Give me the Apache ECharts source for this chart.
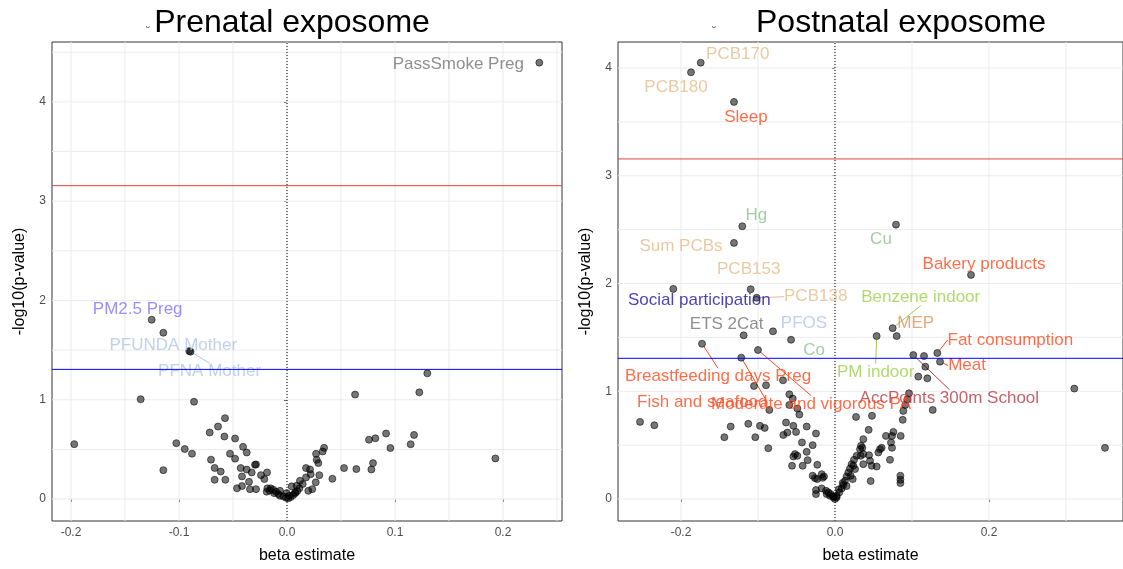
<!DOCTYPE html>
<html><head><meta charset="utf-8">
<script src="https://cdn.jsdelivr.net/npm/echarts@6/dist/echarts.min.js"></script>
<style>html,body{margin:0;padding:0;background:#fff}#c{width:1123px;height:569px}</style>
</head><body><div id="c"></div>
<script>
// ---------------- DATA ----------------
const panelTitles = ['Prenatal exposome', 'Postnatal exposome'];
const xAxisTitle = 'beta estimate';
const yAxisTitle = '-log10(p-value)';
const bonferroniLine = 3.156;
const nominalLine = 1.306;

// Prenatal: labelled exposures
const preNames = ['PassSmoke Preg', 'PM2.5 Preg', 'PFUNDA Mother', 'PFNA Mother'];
const preBeta = [0.2336, -0.1253, -0.0905, -0.0893];
const preLogP = [4.395, 1.806, 1.490, 1.484];
// Prenatal: unlabelled exposures [beta, -log10 p]
const preOther = [
 [-0.197,0.553],[-0.1145,1.675],[-0.1355,1.005],[-0.0861,0.98],[-0.1145,0.291],[-0.1025,0.563],
 [-0.0947,0.504],[-0.088,0.457],[-0.0716,0.67],[-0.0639,0.73],[-0.0574,0.815],[-0.058,0.63],
 [-0.0481,0.61],[-0.0704,0.397],[-0.067,0.313],[-0.0614,0.277],[-0.067,0.194],[-0.0571,0.194],
 [-0.0528,0.457],[-0.0481,0.407],[-0.0407,0.526],[-0.0373,0.469],[-0.0429,0.312],[-0.0373,0.297],
 [-0.0327,0.268],[-0.0287,0.349],[-0.0296,0.345],[-0.0417,0.228],[-0.0241,0.241],[-0.0185,0.268],
 [-0.021,0.201],[-0.0352,0.174],[-0.0417,0.131],[-0.0463,0.108],[-0.0343,0.1],[-0.0287,0.1],
 [-0.0182,0.108],[-0.0188,0.074],[-0.0151,0.108],[-0.0127,0.094],[-0.0102,0.074],[-0.008,0.05],
 [-0.0065,0.033],[-0.0034,0.027],[-0.0009,0.013],[0.0012,0.007],[0.0034,0.02],[0.0058,0.04],
 [0.0077,0.06],[0.0095,0.08],[0.0114,0.108],[-0.0065,0.083],[-0.0003,0.06],[0.0043,0.128],
 [-0.016,0.085],[-0.012,0.06],[0.002,0.035],[0.009,0.134],[0.0074,0.067],[0.012,0.184],
 [0.0145,0.151],[0.0176,0.218],[0.0176,0.312],[0.0213,0.298],[0.0219,0.251],[0.0197,0.083],
 [0.0234,0.1],[0.0266,0.168],[0.0299,0.241],[0.0269,0.456],[0.0275,0.395],[0.029,0.362],
 [0.033,0.479],[0.0343,0.516],[0.042,0.204],[0.0528,0.312],[0.0642,0.302],[0.0781,0.298],
 [0.0796,0.362],[0.0759,0.598],[0.0818,0.612],[0.0917,0.66],[0.0957,0.514],[0.1145,0.552],
 [0.1176,0.646],[0.063,1.052],[0.1225,1.075],[0.1299,1.266],[0.1929,0.409]
];

// Postnatal: labelled exposures
const postNames = ['PCB170','PCB180','Sleep','Hg','Sum PCBs','Cu','Bakery products','Social participation',
 'PCB153','PCB138','ETS 2Cat','PFOS','Co','Benzene indoor','MEP','PM indoor','Fat consumption','Meat',
 'AccPoints 300m School','Breastfeeding days Preg','Fish and seafood','Moderate and vigorous PA'];
const postBeta = [-0.1744,-0.187,-0.1312,-0.1204,-0.1312,0.0792,0.1766,-0.21,
 -0.1095,-0.1017,-0.1186,-0.0805,-0.0571,0.0749,0.0801,0.0541,0.1329,0.1364,
 0.1017,-0.1727,-0.1217,-0.1];
const postLogP = [4.049,3.96,3.685,2.531,2.377,2.546,2.08,1.95,
 1.947,1.868,1.519,1.556,1.478,1.586,1.512,1.512,1.355,1.275,
 1.336,1.441,1.312,1.383];
// Postnatal: unlabelled exposures [beta, -log10 p]
const postOther = [
 [0.3506,0.475],[0.3108,1.025],[-0.2532,0.716],[-0.2346,0.685],
 [-0.1437,0.574],[-0.1355,0.673],[-0.1126,0.698],[-0.1035,0.574],[-0.0974,0.679],[-0.0913,0.66],[-0.0866,0.472],
 [-0.1052,1.049],[-0.0896,1.056],[-0.0853,0.827],[-0.0675,1.102],[-0.0593,0.972],[-0.0549,0.932],[-0.0593,0.873],
 [-0.0489,0.84],[-0.0463,0.784],[-0.0636,0.71],[-0.0541,0.679],[-0.0506,0.623],[-0.0671,0.595],[-0.0619,0.617],
 [-0.0368,0.673],[-0.0247,0.608],[-0.0429,0.525],[-0.029,0.5],[-0.0368,0.438],[-0.0519,0.417],[-0.0541,0.395],
 [-0.0489,0.401],[-0.0558,0.309],[-0.042,0.309],[-0.0355,0.361],[-0.023,0.318],[-0.029,0.216],[-0.026,0.194],
 [-0.023,0.185],[-0.0173,0.231],[-0.0143,0.21],[-0.0247,0.083],[-0.0247,0.046],[-0.0173,0.099],[-0.0117,0.077],
 [-0.0087,0.062],[-0.0056,0.046],[-0.0022,0.025],[0.0022,0.016],[0,0.0],[-0.016,0.197],[-0.0108,0.046],[-0.0065,0.031],
 [0.1156,1.327],[0.1173,1.228],[0.1082,1.136],[0.1199,1.12],[0.1269,0.827],[0.0961,0.981],[0.0939,0.926],
 [0.0913,0.873],[0.0887,0.818],[0.048,0.772],[0.0273,0.762],[0.0879,0.735],[0.0437,0.642],[0.0368,0.556],
 [0.0338,0.494],[0.0355,0.475],[0.0662,0.586],[0.074,0.586],[0.0758,0.623],[0.0853,0.586],[0.0727,0.525],
 [0.074,0.475],[0.0584,0.463],[0.0606,0.475],[0.0563,0.432],[0.0714,0.364],[0.0442,0.407],[0.0455,0.355],
 [0.0476,0.309],[0.0368,0.324],[0.0541,0.302],[0.0463,0.167],[0.0849,0.216],[0.0849,0.179],[0.0849,0.148],
 [0.0281,0.401],[0.0247,0.364],[0.0216,0.324],[0.0195,0.284],[0.0173,0.247],[0.0151,0.21],[0.013,0.17],
 [0.0108,0.13],[0.0087,0.099],[0.0056,0.062],[0.0022,0.031],[-0.0022,0.016],[0.0238,0.309],[0.026,0.278],
 [0.0203,0.216],[0.023,0.185],[0.0325,0.463],[0.0333,0.401],[0.0368,0.417],[0.005,0.09],[0.01,0.15],[0.015,0.12]
];

// Axis ranges and ticks
const preXRange = [-0.2176, 0.2546], preYRange = [-0.221, 4.603];
const postXRange = [-0.2818, 0.3740], postYRange = [-0.2037, 4.241];
const preXTicks = [-0.2, -0.1, 0, 0.1, 0.2];
const preXGrid = [-0.2, -0.15, -0.1, -0.05, 0, 0.05, 0.1, 0.15, 0.2, 0.25];
const preYTicks = [0, 1, 2, 3, 4];
const preYGrid = [0, 0.5, 1, 1.5, 2, 2.5, 3, 3.5, 4, 4.5];
const postXTicks = [-0.2, 0, 0.2];
const postXGrid = [-0.2, -0.1, 0, 0.1, 0.2, 0.3];
const postYTicks = [0, 1, 2, 3, 4];
const postYGrid = [0, 0.5, 1, 1.5, 2, 2.5, 3, 3.5, 4];

// ---------------- STYLE ----------------
const FONT = 'Liberation Sans, Arial, sans-serif';
const C = {
  pcb: '#E6BB8C', red: '#FF4A1F', green: '#8DC08F', navy: '#1E10A0', grey: '#737373',
  pfas: '#AFC6E6', pm25: '#7F72FF', yg: '#9FD04E', mep: '#D9935B', acc: '#B83A44'
};
const labelStyle = {
  'PassSmoke Preg': {dx:-81, dy:2, color:C.grey},
  'PM2.5 Preg': {dx:-14, dy:-10, color:C.pm25},
  'PFUNDA Mother': {dx:-16, dy:-6, color:C.pfas},
  'PFNA Mother': {dx:19, dy:20, color:C.pfas, line:true},
  'PCB170': {dx:37, dy:-8, color:C.pcb},
  'PCB180': {dx:-15, dy:15, color:C.pcb},
  'Sleep': {dx:12, dy:15, color:C.red},
  'Hg': {dx:14, dy:-11, color:C.green},
  'Sum PCBs': {dx:-53, dy:3, color:C.pcb},
  'Cu': {dx:-15, dy:15, color:C.green},
  'Bakery products': {dx:13, dy:-11, color:C.red},
  'Social participation': {dx:26, dy:11, color:C.navy},
  'PCB153': {dx:-2, dy:-20, color:C.pcb},
  'PCB138': {dx:59, dy:-1, color:C.pcb, line:true},
  'ETS 2Cat': {dx:-17, dy:-11, color:C.grey},
  'PFOS': {dx:31, dy:-8, color:C.pfas},
  'Co': {dx:23, dy:11, color:C.green},
  'Benzene indoor': {dx:28, dy:-31, color:C.yg, line:true},
  'MEP': {dx:19, dy:-13, color:C.mep},
  'PM indoor': {dx:-1, dy:36, color:C.yg, line:true},
  'Fat consumption': {dx:73, dy:-13, color:C.red, line:true},
  'Meat': {dx:27, dy:4, color:C.red, line:true},
  'AccPoints 300m School': {dx:36, dy:43, color:C.acc, line:true},
  'Breastfeeding days Preg': {dx:16, dy:33, color:C.red, line:true},
  'Fish and seafood': {dx:-39, dy:45, color:C.red, line:true},
  'Moderate and vigorous PA': {dx:53, dy:54, color:C.red, line:true}
};

function pointSeries(idx, others, names, xs, ys) {
  const data = others.map(p => ({value: p}));
  names.forEach((n, i) => {
    const s = labelStyle[n];
    data.push({
      value: [xs[i], ys[i]], name: n,
      label: {show: true, formatter: n, color: s.color},
      labelLine: s.line ? {show: true, lineStyle: {color: s.color, width: 1}} : {show: false}
    });
  });
  return {
    type: 'scatter', xAxisIndex: idx, yAxisIndex: idx, data: data, z: 4,
    symbolSize: 7,
    itemStyle: {color: 'rgba(0,0,0,0.68)', borderColor: 'rgba(0,0,0,0.85)', borderWidth: 0.8},
    label: {show: false, position: 'inside', fontSize: 17, fontFamily: FONT, textBorderWidth: 0},
    labelLayout: function (p) {
      const d = data[p.dataIndex];
      if (!d || !d.name) return {};
      const s = labelStyle[d.name];
      return {dx: s.dx, dy: s.dy};
    },
    emphasis: {disabled: true}, silent: true
  };
}

// every guide / reference line is a plain two-point line series
function seg(idx, p0, p1, z, style, zlevel) {
  return {
    type: 'line', xAxisIndex: idx, yAxisIndex: idx, z: z, zlevel: zlevel || 0,
    silent: true, showSymbol: false,
    data: [p0, p1], lineStyle: Object.assign({opacity: 1}, style), itemStyle: {color: style.color},
    emphasis: {disabled: true}, clip: false
  };
}
function refSeries(idx, xr, yr, xg, yg) {
  const grey = {color: '#EBEBEB', width: 1, type: 'solid'};
  const out = [];
  xg.forEach(v => out.push(seg(idx, [v, yr[0]], [v, yr[1]], 1, grey)));
  yg.forEach(v => out.push(seg(idx, [xr[0], v], [xr[1], v], 1, grey)));
  out.push(seg(idx, [0, yr[0]], [0, yr[1]], 3, {color: '#000000', width: 1, type: [1, 2]}));
  // threshold lines on their own canvas layer so nothing can tint them
  out.push(seg(idx, [xr[0], bonferroniLine], [xr[1], bonferroniLine], 1, {color: '#DD4040', width: 1, type: 'solid'}, 1));
  out.push(seg(idx, [xr[0], nominalLine], [xr[1], nominalLine], 1, {color: '#0000FF', width: 1, type: 'solid'}, 1));
  return out;
}

function xAxisCfg(idx, range, ticks) {
  return {
    gridIndex: idx, type: 'value', min: range[0], max: range[1],
    splitLine: {show: false}, axisLine: {show: false},
    axisTick: {show: true, length: 3, customValues: ticks, lineStyle: {color: '#333333'}},
    axisLabel: {customValues: ticks, formatter: v => v.toFixed(1), color: '#4D4D4D', fontSize: 12, margin: 6, fontFamily: FONT},
    name: xAxisTitle, nameLocation: 'middle', nameGap: 27,
    nameTextStyle: {fontSize: 16, color: '#000', fontFamily: FONT}
  };
}
function yAxisCfg(idx, range, ticks) {
  return {
    gridIndex: idx, type: 'value', min: range[0], max: range[1],
    splitLine: {show: false}, axisLine: {show: false},
    axisTick: {show: true, length: 3, customValues: ticks, lineStyle: {color: '#333333'}},
    axisLabel: {customValues: ticks, formatter: v => String(Math.round(v)), color: '#4D4D4D', fontSize: 12, margin: 6, fontFamily: FONT},
    name: yAxisTitle, nameLocation: 'middle', nameGap: 24,
    nameTextStyle: {fontSize: 16, color: '#000', fontFamily: FONT}
  };
}

const chart = echarts.init(document.getElementById('c'), null, {renderer: 'canvas'});
chart.setOption({
  animation: false,
  backgroundColor: '#ffffff',
  grid: [
    {left: 52, top: 42, width: 510, height: 480, show: true, borderColor: '#333333', borderWidth: 1, backgroundColor: 'transparent'},
    {left: 618, top: 42, width: 505, height: 480, show: true, borderColor: '#333333', borderWidth: 1, backgroundColor: 'transparent'}
  ],
  xAxis: [xAxisCfg(0, preXRange, preXTicks), xAxisCfg(1, postXRange, postXTicks)],
  yAxis: [yAxisCfg(0, preYRange, preYTicks), yAxisCfg(1, postYRange, postYTicks)],
  series: [].concat(
    refSeries(0, preXRange, preYRange, preXGrid, preYGrid),
    refSeries(1, postXRange, postYRange, postXGrid, postYGrid),
    [pointSeries(0, preOther, preNames, preBeta, preLogP),
     pointSeries(1, postOther, postNames, postBeta, postLogP)]
  ),
  graphic: [
    {type: 'text', x: 292, y: 23, style: {text: panelTitles[0], font: '32px ' + FONT, fill: '#000', textAlign: 'center', textVerticalAlign: 'middle'}},
    {type: 'text', x: 901, y: 23, style: {text: panelTitles[1], font: '32px ' + FONT, fill: '#000', textAlign: 'center', textVerticalAlign: 'middle'}},
    {type: 'text', x: 148, y: 29, style: {text: 'ᵕ', font: '11px DejaVu Sans', fill: '#333', textAlign: 'center', textVerticalAlign: 'middle'}},
    {type: 'text', x: 714, y: 29, style: {text: 'ᵕ', font: '11px DejaVu Sans', fill: '#333', textAlign: 'center', textVerticalAlign: 'middle'}}
  ]
});
</script></body></html>
